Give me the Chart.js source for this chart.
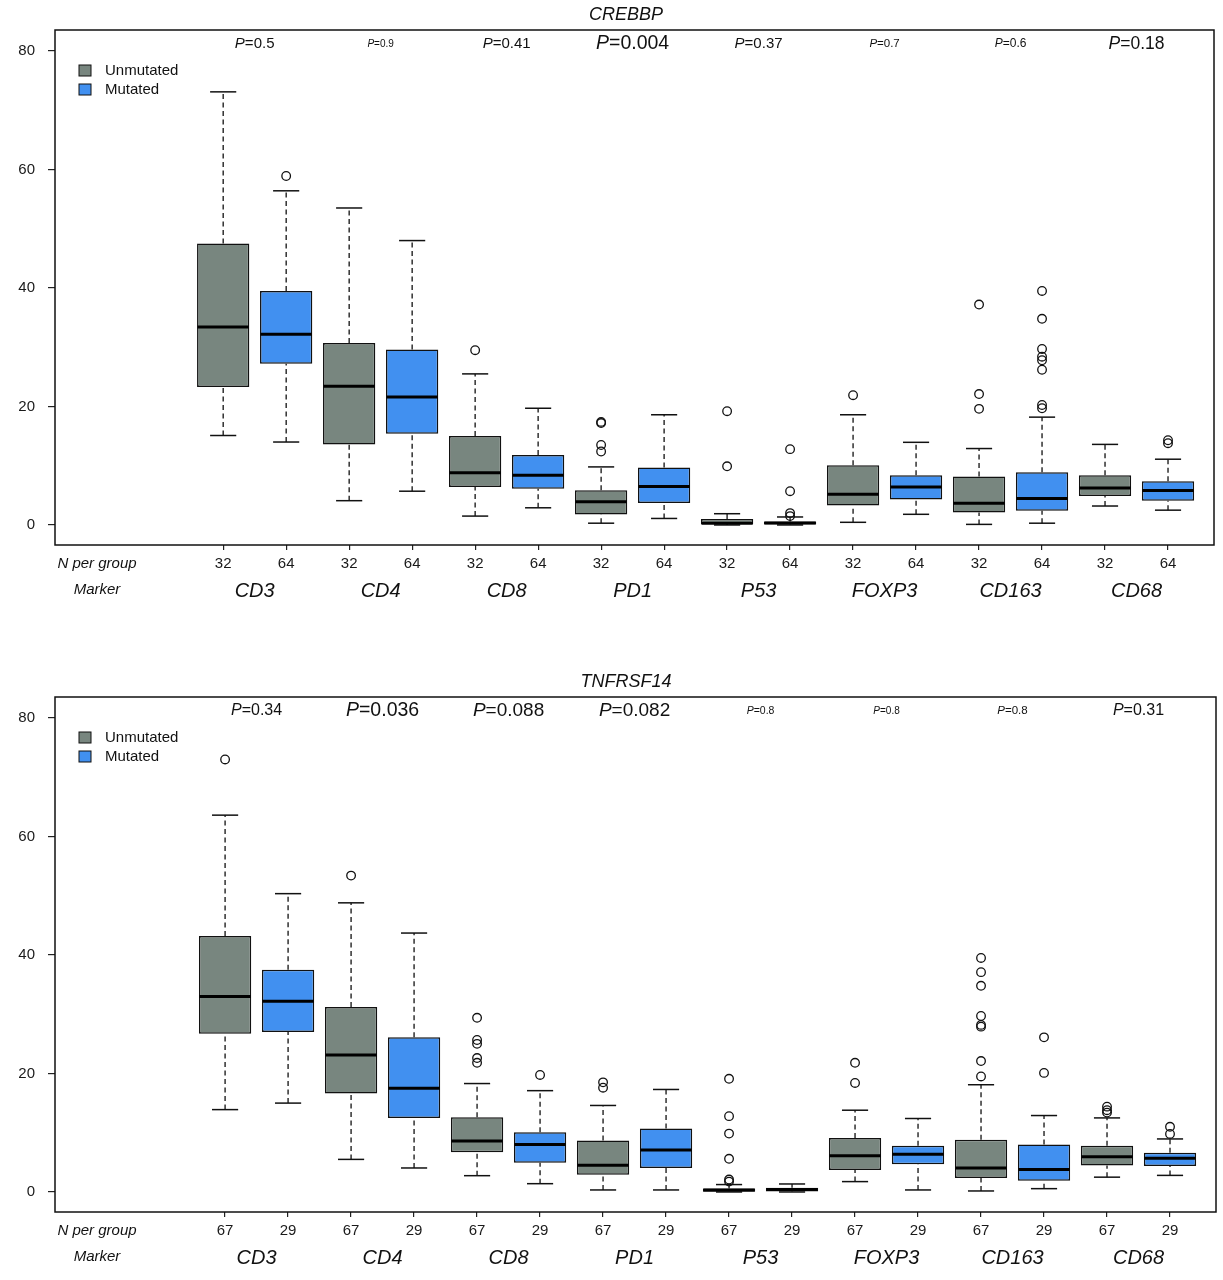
<!DOCTYPE html>
<html>
<head>
<meta charset="utf-8">
<script src="https://cdn.jsdelivr.net/npm/chart.js@4.4.1/dist/chart.umd.min.js"></script>
<style>
  html, body { margin: 0; padding: 0; background: #fff; overflow: hidden; }
  canvas { display: block; }
</style>
</head>
<body>
<canvas id="crebbpChart" width="1223" height="667"></canvas>
<canvas id="tnfChart" width="1223" height="613"></canvas>
<script>
const markers = ["CD3", "CD4", "CD8", "PD1", "P53", "FOXP3", "CD163", "CD68"];
const groups = ["Unmutated", "Mutated"];
const yTicks = [0, 20, 40, 60, 80];

// box stats per marker: [lower whisker, Q1, median, Q3, upper whisker]
const crebbpUnmutated = [
  [15.1, 23.3, 33.4, 47.5, 73.1],
  [4.1, 13.6, 23.4, 30.7, 53.5],
  [1.5, 6.4, 8.8, 15.0, 25.5],
  [0.3, 1.75, 3.9, 5.85, 9.8],
  [0, 0.15, 0.3, 1.0, 1.9],
  [0.45, 3.3, 5.2, 10.1, 18.6],
  [0.1, 2.1, 3.65, 8.2, 12.9],
  [3.2, 4.9, 6.25, 8.4, 13.6]
];
const crebbpMutated = [
  [14.0, 27.2, 32.2, 39.5, 56.4],
  [5.7, 15.4, 21.6, 29.6, 48.0],
  [2.9, 6.1, 8.4, 11.8, 19.7],
  [1.1, 3.7, 6.5, 9.7, 18.6],
  [0, 0.1, 0.33, 0.6, 1.35],
  [1.8, 4.3, 6.4, 8.4, 13.95],
  [0.3, 2.4, 4.45, 8.9, 18.2],
  [2.5, 4.1, 5.8, 7.4, 11.1]
];
const crebbpUnmutatedOut = [[], [], [29.5], [17.4, 17.2, 13.5, 12.4], [19.2, 9.9], [21.9], [37.2, 22.1, 19.6], []];
const crebbpMutatedOut = [[58.9], [], [], [], [12.8, 5.7, 2.0, 1.5], [], [39.5, 34.8, 29.7, 28.4, 27.8, 26.2, 20.25, 19.7], [14.3, 13.8]];
const crebbpN = [32, 64];
const crebbpP = ["0.5", "0.9", "0.41", "0.004", "0.37", "0.7", "0.6", "0.18"];

const tnfUnmutated = [
  [13.9, 26.7, 33.0, 43.2, 63.6],
  [5.5, 16.6, 23.1, 31.2, 48.8],
  [2.75, 6.7, 8.6, 12.6, 18.3],
  [0.34, 2.9, 4.5, 8.7, 14.6],
  [0, 0.05, 0.33, 0.6, 1.25],
  [1.75, 3.7, 6.1, 9.1, 13.8],
  [0.17, 2.36, 4.05, 8.8, 18.1],
  [2.5, 4.45, 5.96, 7.8, 12.5]
];
const tnfMutated = [
  [15.0, 27.0, 32.2, 37.5, 50.35],
  [4.05, 12.5, 17.5, 26.1, 43.7],
  [1.4, 4.95, 8.0, 10.1, 17.1],
  [0.34, 4.05, 7.1, 10.7, 17.3],
  [0, 0.1, 0.4, 0.73, 1.35],
  [0.34, 4.7, 6.35, 7.8, 12.4],
  [0.56, 1.9, 3.8, 8.0, 12.9],
  [2.8, 4.4, 5.7, 6.6, 8.95]
];
const tnfUnmutatedOut = [[73.0], [53.4], [29.4, 25.65, 25.0, 22.6, 21.8], [18.5, 17.6], [19.1, 12.8, 9.85, 5.6, 2.1, 1.75], [21.8, 18.4], [39.5, 37.1, 34.8, 29.7, 28.2, 27.9, 22.1, 19.5], [14.4, 13.8, 13.4]];
const tnfMutatedOut = [[], [], [19.75], [], [], [], [26.1, 20.1], [11.0, 9.8]];
const tnfN = [67, 29];
const tnfP = ["0.34", "0.036", "0.088", "0.082", "0.8", "0.8", "0.8", "0.31"];

// styling
const FONT = "'Liberation Sans', Arial, Helvetica, sans-serif";
const colors = ["#78867f", "#4190f0"];
const crebbpPSize = [15, 10, 15, 19.5, 15, 11.5, 12, 17.5];
const tnfPSize = [16, 19.5, 19, 19, 10.5, 10, 11.5, 16];
const BOX_RATIO = 0.83;

Chart.defaults.font.family = FONT;
Chart.defaults.color = "#1a1a1a";

function line(ctx, x1, y1, x2, y2) {
  ctx.beginPath();
  ctx.moveTo(x1, y1);
  ctx.lineTo(x2, y2);
  ctx.stroke();
}

function drawP(ctx, cx, cy, value, size) {
  const it = "italic " + size + "px " + FONT;
  const rg = size + "px " + FONT;
  ctx.font = it;
  const wP = ctx.measureText("P").width;
  ctx.font = rg;
  const rest = "=" + value;
  const wR = ctx.measureText(rest).width;
  const start = cx - (wP + wR) / 2;
  ctx.textAlign = "left";
  ctx.textBaseline = "middle";
  ctx.font = it;
  ctx.fillText("P", start, cy);
  ctx.font = rg;
  ctx.fillText(rest, start + wP, cy);
}

function boxPlugin(panel) {
  return {
    id: "boxExtras",
    beforeDatasetsDraw(chart) {
      const { ctx, scales: { x, y } } = chart;
      const half = (x.getPixelForValue(1) - x.getPixelForValue(0)) * BOX_RATIO / 2;
      ctx.save();
      ctx.strokeStyle = "#111";
      [panel.unmutated, panel.mutated].forEach((stats, g) => {
        stats.forEach((s, i) => {
          const cx = x.getPixelForValue(2 * i + g);
          ctx.lineWidth = 1.3;
          ctx.setLineDash([5, 3.5]);
          line(ctx, cx, y.getPixelForValue(s[0]), cx, y.getPixelForValue(s[1]));
          line(ctx, cx, y.getPixelForValue(s[3]), cx, y.getPixelForValue(s[4]));
          ctx.setLineDash([]);
          ctx.lineWidth = 1.5;
          line(ctx, cx - half / 2, y.getPixelForValue(s[0]), cx + half / 2, y.getPixelForValue(s[0]));
          line(ctx, cx - half / 2, y.getPixelForValue(s[4]), cx + half / 2, y.getPixelForValue(s[4]));
        });
      });
      ctx.restore();
    },
    afterDatasetsDraw(chart) {
      const { ctx, chartArea: a, scales: { x, y } } = chart;
      const half = (x.getPixelForValue(1) - x.getPixelForValue(0)) * BOX_RATIO / 2;
      ctx.save();
      ctx.strokeStyle = "#000";
      ctx.lineWidth = 3;
      [panel.unmutated, panel.mutated].forEach((stats, g) => {
        stats.forEach((s, i) => {
          const cx = x.getPixelForValue(2 * i + g);
          const my = y.getPixelForValue(s[2]);
          line(ctx, cx - half + 0.5, my, cx + half - 0.5, my);
        });
      });

      // frame
      ctx.lineWidth = 1.5;
      ctx.strokeStyle = "#111";
      ctx.strokeRect(a.left, a.top, a.right - a.left, a.bottom - a.top);

      ctx.fillStyle = "#111";
      // title
      ctx.font = "italic 18px " + FONT;
      ctx.textAlign = "center";
      ctx.textBaseline = "middle";
      ctx.fillText(panel.title, 626, a.top - 15);

      // p values
      markers.forEach((m, i) => {
        drawP(ctx, x.getPixelForValue(2 * i + 0.5), a.top + 14, panel.p[i], panel.pSize[i]);
      });

      // legend
      groups.forEach((g, k) => {
        const sy = a.top + 35 + k * 19;
        ctx.fillStyle = colors[k];
        ctx.fillRect(a.left + 24, sy, 12, 11);
        ctx.lineWidth = 1;
        ctx.strokeStyle = "#111";
        ctx.strokeRect(a.left + 24, sy, 12, 11);
        ctx.fillStyle = "#111";
        ctx.font = "15px " + FONT;
        ctx.textAlign = "left";
        ctx.textBaseline = "middle";
        ctx.fillText(g, a.left + 50, sy + 6);
      });

      // row labels under the axis
      ctx.font = "italic 15px " + FONT;
      ctx.textAlign = "center";
      ctx.fillText("N per group", 97, a.bottom + 19);
      ctx.fillText("Marker", 97, a.bottom + 45);
      ctx.font = "italic 20px " + FONT;
      markers.forEach((m, i) => {
        ctx.fillText(m, x.getPixelForValue(2 * i + 0.5), a.bottom + 46);
      });
      ctx.restore();
    }
  };
}

function makeChart(id, panel, xHeight, xMin, rightPad) {
  const datasets = [];
  [panel.unmutated, panel.mutated].forEach((stats, g) => {
    datasets.push({
      type: "bar",
      label: groups[g],
      data: stats.map((s, i) => ({ x: 2 * i + g, y: [s[1], s[3]] })),
      backgroundColor: colors[g],
      borderColor: "#111",
      borderWidth: 1.5,
      borderSkipped: false,
      grouped: false,
      barPercentage: BOX_RATIO,
      categoryPercentage: 1
    });
  });
  [panel.unmutatedOut, panel.mutatedOut].forEach((outs, g) => {
    const pts = [];
    outs.forEach((vals, i) => vals.forEach((v) => pts.push({ x: 2 * i + g, y: v })));
    datasets.push({
      type: "scatter",
      label: groups[g] + " outliers",
      data: pts,
      pointStyle: "circle",
      pointRadius: 4.3,
      borderColor: "#111",
      borderWidth: 1.3,
      backgroundColor: "rgba(0,0,0,0)"
    });
  });

  return new Chart(document.getElementById(id), {
    type: "bar",
    data: { datasets },
    options: {
      responsive: false,
      animation: false,
      events: [],
      layout: { padding: { left: 0, right: rightPad, top: 30, bottom: 0 } },
      plugins: { legend: { display: false }, tooltip: { enabled: false } },
      scales: {
        x: {
          type: "linear",
          min: xMin,
          max: 15.73,
          offset: false,
          afterBuildTicks: (s) => { s.ticks = markers.flatMap((m, i) => [{ value: 2 * i }, { value: 2 * i + 1 }]); },
          afterFit: (s) => { s.height = xHeight; },
          grid: { offset: false, drawOnChartArea: false, drawTicks: true, tickLength: 5, color: "#222", lineWidth: 1.2 },
          border: { display: false },
          ticks: {
            autoSkip: false,
            maxRotation: 0,
            padding: 5,
            font: { size: 15 },
            callback: (v) => panel.n[v % 2]
          }
        },
        y: {
          min: -3.38,
          max: 83.54,
          afterBuildTicks: (s) => { s.ticks = yTicks.map((v) => ({ value: v })); },
          afterFit: (s) => { s.width = 55; },
          grid: { drawOnChartArea: false, drawTicks: true, tickLength: 7, color: "#222", lineWidth: 1.2 },
          border: { display: false },
          ticks: { padding: 13, font: { size: 15 } }
        }
      }
    },
    plugins: [boxPlugin(panel)]
  });
}

makeChart("crebbpChart", {
  title: "CREBBP",
  unmutated: crebbpUnmutated,
  mutated: crebbpMutated,
  unmutatedOut: crebbpUnmutatedOut,
  mutatedOut: crebbpMutatedOut,
  n: crebbpN,
  p: crebbpP,
  pSize: crebbpPSize
}, 122, -2.67, 9);

makeChart("tnfChart", {
  title: "TNFRSF14",
  unmutated: tnfUnmutated,
  mutated: tnfMutated,
  unmutatedOut: tnfUnmutatedOut,
  mutatedOut: tnfMutatedOut,
  n: tnfN,
  p: tnfP,
  pSize: tnfPSize
}, 68, -2.70, 7);
</script>
</body>
</html>
